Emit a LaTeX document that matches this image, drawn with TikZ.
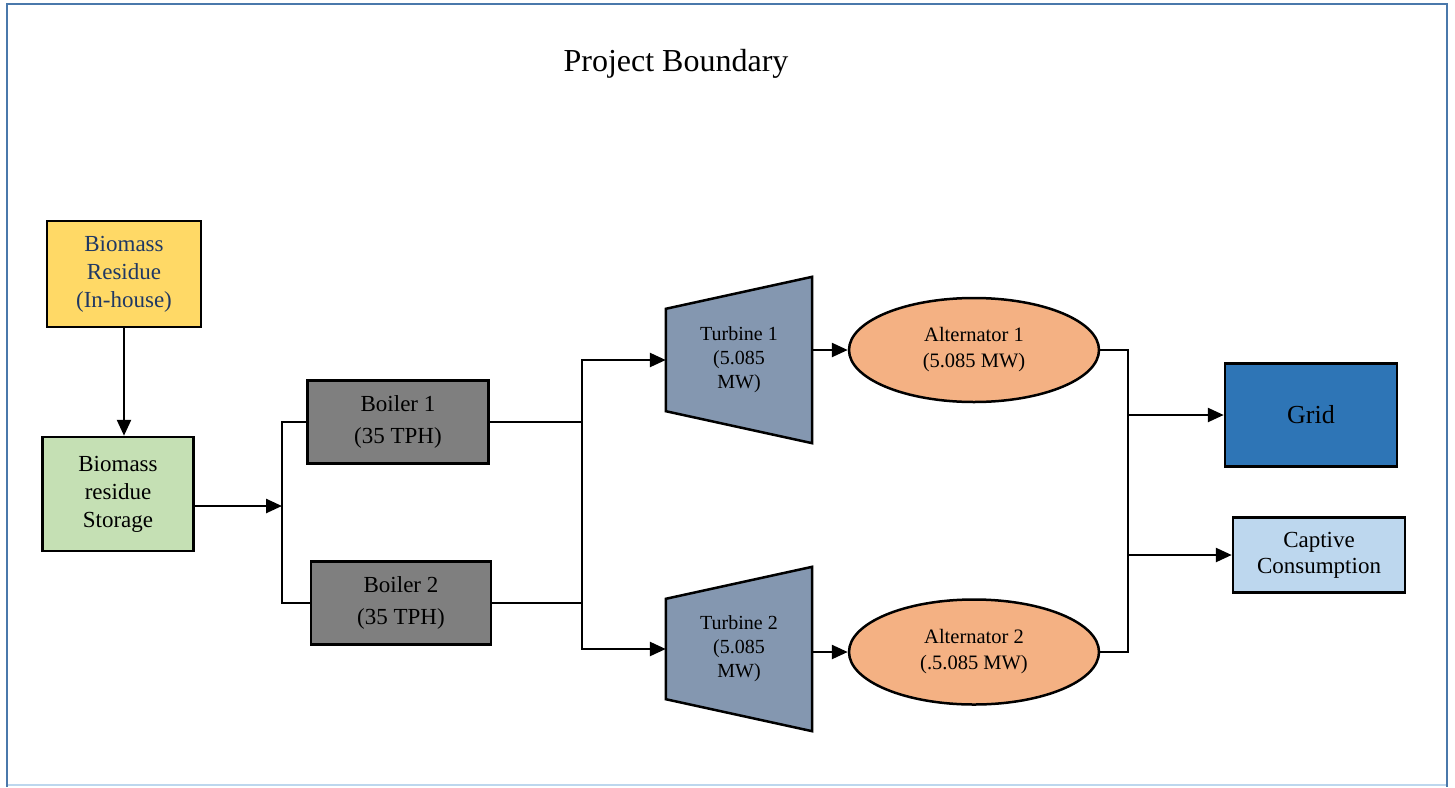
\documentclass[tikz,border=0pt]{standalone}
\usepackage{fontspec}
\setmainfont{Liberation Serif}
\usepackage{tikz}
\usetikzlibrary{shapes.geometric, arrows.meta, positioning, calc, backgrounds}
\definecolor{Straw}{HTML}{FFD966}
\definecolor{Sage}{HTML}{C5E0B4}
\definecolor{Slate}{HTML}{7F7F7F}
\definecolor{Steel}{HTML}{8497B0}
\definecolor{Peach}{HTML}{F4B183}
\definecolor{Cobalt}{HTML}{2E75B6}
\definecolor{IceBlue}{HTML}{BDD7EE}
\definecolor{FrameBlue}{HTML}{4A78AB}
\definecolor{NavyText}{HTML}{1F3864}
\newcommand{\txtsize}[2]{\fontsize{#1}{#2}\selectfont}

\tikzset{
    unit/.style={rectangle, draw=black, line width=2.5pt, inner sep=0pt,
                 align=center, font=\txtsize{23}{28}},
    flow/.style={-{Triangle[length=16pt,width=14pt]}, line width=2.5pt},
    wire/.style={line width=1.5pt}
}

\begin{document}
\begin{tikzpicture}[x=1pt, y=-1pt]
    \useasboundingbox (0,0) rectangle (1455,787);

    % Project boundary frame
    \draw[IceBlue, line width=1.5pt] (7,785) -- (1447,785);
    \draw[FrameBlue, line width=2.5pt] (7,787) -- (7,4) -- (1447,4) -- (1447,787);
    \node[font=\txtsize{32}{38}] (title) at (676,64) {Project Boundary};

    % Fuel side
    \node[unit, fill=Straw, text=NavyText, minimum width=154pt, minimum height=106pt]
        (residue) at (124,274) {Biomass\\Residue\\(In-house)};
    \node[unit, fill=Sage, minimum width=151pt, minimum height=114pt]
        (storage) at (118,494) {Biomass\\residue\\Storage};

    % Boilers
    \node[unit, fill=Slate, font=\txtsize{23}{32}, minimum width=181pt, minimum height=83pt]
        (boil1) at (398,422) {Boiler 1\\(35 TPH)};
    \node[unit, fill=Slate, font=\txtsize{23}{32}, minimum width=180pt, minimum height=83pt]
        (boil2) at (401,603) {Boiler 2\\(35 TPH)};

    % Turbines (outline drawn behind)
    \node[inner sep=0pt, minimum width=146pt, minimum height=166pt, align=center,
          font=\txtsize{20}{24}] (tur1) at (739,360) {Turbine 1\\(5.085\\MW)};
    \node[inner sep=0pt, minimum width=146pt, minimum height=164pt, align=center,
          font=\txtsize{20}{24}] (tur2) at (739,649) {Turbine 2\\(5.085\\MW)};
    \begin{scope}[on background layer]
        \foreach \t in {tur1, tur2}
            \filldraw[fill=Steel, draw=black, line width=2.5pt, line join=miter]
                ($(\t.north west)+(0,32)$) -- (\t.north east) -- (\t.south east)
                -- ($(\t.south west)+(0,-32)$) -- cycle;
    \end{scope}

    % Alternators
    \node[ellipse, draw=black, line width=2.5pt, fill=Peach, inner sep=0pt,
          minimum width=250pt, minimum height=104pt, align=center,
          font=\txtsize{20.5}{26}] (alt1) at (974,350) {Alternator 1\\(5.085 MW)};
    \node[ellipse, draw=black, line width=2.5pt, fill=Peach, inner sep=0pt,
          minimum width=250pt, minimum height=105pt, align=center,
          font=\txtsize{20.5}{26}] (alt2) at (974,652) {Alternator 2\\(.5.085 MW)};

    % Outputs
    \node[unit, fill=Cobalt, font=\txtsize{26}{30}, minimum width=172pt, minimum height=103pt]
        (grid) at (1311,415) {Grid};
    \node[unit, fill=IceBlue, font=\txtsize{23}{26}, minimum width=172pt, minimum height=75pt]
        (captive) at (1319,555) {Captive\\Consumption};

    % Junction points
    \coordinate (split) at (282,506);
    \coordinate (merge) at (582,505);
    \coordinate (bus) at (1128,500);

    % Connectors
    \draw[flow] (residue.south) -- (residue.south |- storage.north);
    \draw[flow] (storage.east |- split) -- (split);
    \draw[wire] (boil1.west) -| (split) |- (boil2.west);
    \draw[wire] (boil1.east) -| (merge) |- (boil2.east);
    \draw[flow] (merge) |- (tur1.west);
    \draw[flow] (merge) |- (tur2.west);
    \draw[flow] (tur1.east |- alt1.west) -- (alt1.west);
    \draw[flow] (tur2.east |- alt2.west) -- (alt2.west);
    \draw[wire] (alt1.east) -| (bus) |- (alt2.east);
    \draw[flow] (bus |- grid.west) -- (grid.west);
    \draw[flow] (bus |- captive.west) -- (captive.west);
\end{tikzpicture}
\end{document}
